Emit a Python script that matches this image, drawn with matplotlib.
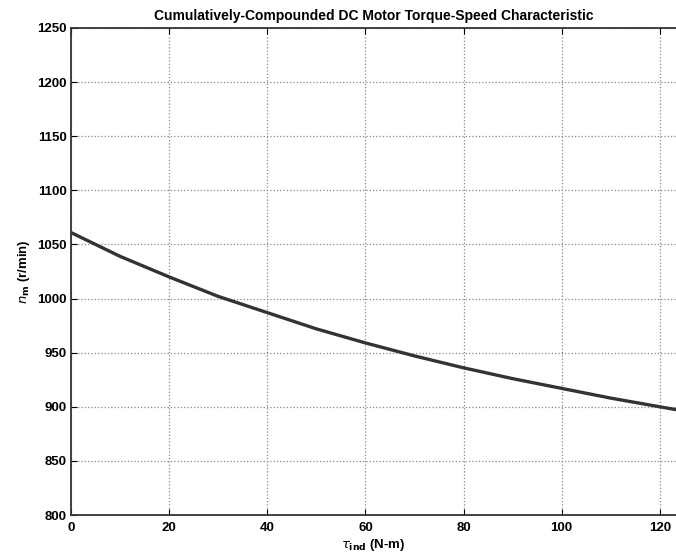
import matplotlib
matplotlib.use("Agg")
import matplotlib.pyplot as plt
import numpy as np

# Data
torque = [0, 10, 20, 30, 40, 50, 60, 70, 80, 90, 100, 110, 120, 125]
speed = [1061, 1039, 1020, 1002, 987, 972, 959, 947, 936, 926, 917, 908, 900, 896]
xticks = [0, 20, 40, 60, 80, 100, 120]
yticks = [800, 850, 900, 950, 1000, 1050, 1100, 1150, 1200, 1250]

plt.rcParams['font.family'] = ['Liberation Sans', 'DejaVu Sans']

fig = plt.figure(figsize=(6.76, 5.59), dpi=100)
ax = fig.add_axes([71/676, 1-515/559, 1-71/676, (515-28)/559])

ax.plot(torque, speed, color='#333333', linewidth=2.4)

ax.set_xlim(0, 123.3)
ax.set_ylim(800, 1250)
ax.set_xticks(xticks)
ax.set_yticks(yticks)
ax.grid(True, linestyle=':', color='#888888', linewidth=0.9)
ax.tick_params(direction='in', top=True, right=False, length=4, labelsize=9.5)
ax.tick_params(axis='y', pad=3)
ax.tick_params(axis='x', pad=5)
for lab in ax.get_xticklabels() + ax.get_yticklabels():
    lab.set_fontweight('bold')
ax.spines['right'].set_visible(False)
for s in ['left', 'bottom', 'top']:
    ax.spines[s].set_linewidth(1.3)
    ax.spines[s].set_color('#333333')

ax.set_title('Cumulatively-Compounded DC Motor Torque-Speed Characteristic',
             fontsize=10, fontweight='bold', pad=6)
ax.set_xlabel(r'$\tau_{\mathbf{ind}}$ (N-m)', fontsize=9.5, fontweight='bold', labelpad=2)
ax.set_ylabel(r'$n_{\mathbf{m}}$ (r/min)', fontsize=9.5, fontweight='bold', labelpad=4)

fig.savefig('out.png', dpi=100)
